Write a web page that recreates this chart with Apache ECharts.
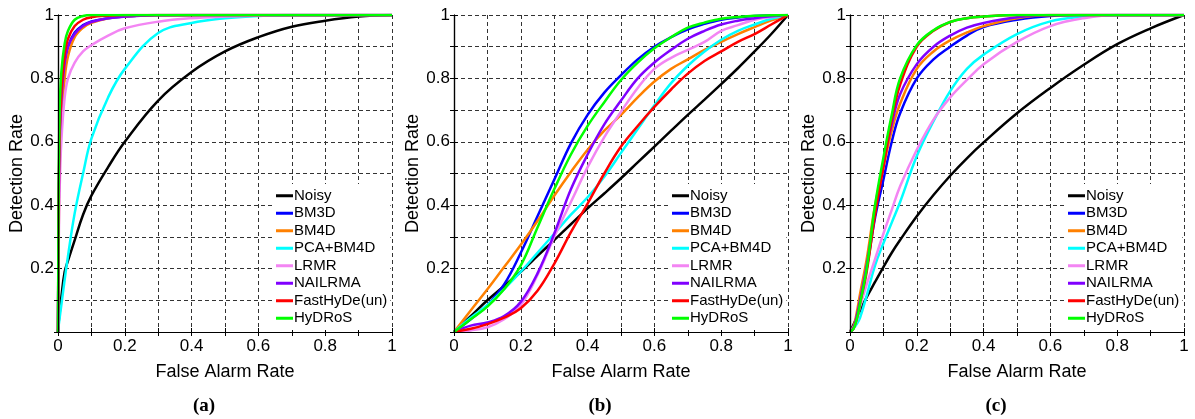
<!DOCTYPE html>
<html>
<head>
<meta charset="utf-8">
<script src="https://cdn.jsdelivr.net/npm/echarts@6/dist/echarts.min.js"></script>
<style>
  html, body { margin: 0; padding: 0; background: #fff; }
  #chart { width: 1195px; height: 419px; }
</style>
</head>
<body>
<div id="chart"></div>
<script>
// method names, legend order
const methods = ['Noisy', 'BM3D', 'BM4D', 'PCA+BM4D', 'LRMR', 'NAILRMA', 'FastHyDe(un)', 'HyDRoS'];
const colors = ['#000000', '#0000ff', '#ff8000', '#00ffff', '#f385f3', '#8000ff', '#ff0000', '#00ff00'];
const panelTags = ['a', 'b', 'c'];

// (a) false alarm rate samples and detection rates
const fprA = [0, 0.002, 0.005, 0.01, 0.02, 0.03, 0.05, 0.075, 0.1, 0.15, 0.2, 0.3, 0.4, 0.5, 0.6, 0.7, 0.8, 0.9, 1];
const noisyA = [0, 0.03, 0.06, 0.11, 0.19, 0.225, 0.29, 0.37, 0.43, 0.52, 0.6, 0.73, 0.82, 0.885, 0.93, 0.963, 0.982, 0.995, 1];
const bm3dA = [0, 0.35, 0.58, 0.72, 0.84, 0.9, 0.945, 0.968, 0.98, 0.99, 0.995, 1, 1, 1, 1, 1, 1, 1, 1];
const bm4dA = [0, 0.3, 0.52, 0.67, 0.8, 0.87, 0.93, 0.96, 0.975, 0.99, 0.995, 1, 1, 1, 1, 1, 1, 1, 1];
const pcaA = [0, 0.02, 0.045, 0.085, 0.165, 0.24, 0.375, 0.5, 0.61, 0.74, 0.83, 0.943, 0.975, 0.99, 0.997, 1, 1, 1, 1];
const lrmrA = [0, 0.25, 0.45, 0.6, 0.74, 0.8, 0.85, 0.885, 0.905, 0.935, 0.958, 0.979, 0.99, 0.995, 0.998, 1, 1, 1, 1];
const nailA = [0, 0.38, 0.6, 0.73, 0.85, 0.9, 0.94, 0.965, 0.978, 0.99, 0.995, 0.999, 1, 1, 1, 1, 1, 1, 1];
const fastA = [0, 0.4, 0.62, 0.76, 0.875, 0.925, 0.965, 0.985, 0.993, 0.998, 1, 1, 1, 1, 1, 1, 1, 1, 1];
const hydrosA = [0, 0.45, 0.7, 0.82, 0.91, 0.95, 0.985, 0.997, 1, 1, 1, 1, 1, 1, 1, 1, 1, 1, 1];

// (b)
const fprB = [0, 0.05, 0.1, 0.15, 0.2, 0.25, 0.3, 0.35, 0.4, 0.45, 0.5, 0.55, 0.6, 0.65, 0.7, 0.75, 0.8, 0.85, 0.9, 0.95, 1];
const noisyB = [0, 0.05, 0.1, 0.145, 0.19, 0.24, 0.29, 0.34, 0.39, 0.437, 0.485, 0.535, 0.585, 0.635, 0.685, 0.733, 0.782, 0.832, 0.885, 0.94, 1];
const bm3dB = [0, 0.04, 0.085, 0.15, 0.25, 0.365, 0.48, 0.595, 0.685, 0.755, 0.81, 0.86, 0.9, 0.93, 0.955, 0.972, 0.985, 0.992, 0.997, 0.999, 1];
const bm4dB = [0, 0.068, 0.135, 0.205, 0.275, 0.35, 0.43, 0.505, 0.575, 0.635, 0.685, 0.74, 0.79, 0.83, 0.86, 0.89, 0.915, 0.94, 0.962, 0.983, 1];
const pcaB = [0, 0.045, 0.085, 0.135, 0.19, 0.25, 0.31, 0.37, 0.425, 0.49, 0.565, 0.64, 0.715, 0.785, 0.84, 0.885, 0.922, 0.95, 0.97, 0.988, 1];
const lrmrB = [0, 0.005, 0.015, 0.04, 0.085, 0.18, 0.3, 0.41, 0.52, 0.615, 0.695, 0.77, 0.83, 0.865, 0.89, 0.915, 0.95, 0.968, 0.985, 0.994, 1];
const nailB = [0, 0.02, 0.03, 0.05, 0.095, 0.185, 0.31, 0.45, 0.56, 0.655, 0.73, 0.8, 0.85, 0.89, 0.925, 0.95, 0.97, 0.982, 0.99, 0.996, 1];
const fastB = [0, 0.01, 0.025, 0.045, 0.075, 0.13, 0.215, 0.315, 0.405, 0.5, 0.585, 0.65, 0.71, 0.765, 0.815, 0.855, 0.885, 0.915, 0.94, 0.97, 1];
const hydrosB = [0, 0.04, 0.08, 0.135, 0.21, 0.33, 0.45, 0.56, 0.65, 0.725, 0.795, 0.85, 0.895, 0.93, 0.96, 0.976, 0.988, 0.994, 0.998, 0.999, 1];

// (c)
const fprC = [0, 0.01, 0.02, 0.03, 0.05, 0.075, 0.1, 0.125, 0.15, 0.2, 0.25, 0.3, 0.35, 0.4, 0.5, 0.6, 0.7, 0.8, 0.9, 1];
const noisyC = [0, 0.022, 0.045, 0.067, 0.11, 0.158, 0.205, 0.25, 0.29, 0.365, 0.432, 0.493, 0.548, 0.598, 0.69, 0.77, 0.843, 0.908, 0.958, 1];
const bm3dC = [0, 0.01, 0.045, 0.09, 0.2, 0.36, 0.48, 0.6, 0.69, 0.8, 0.86, 0.9, 0.935, 0.962, 0.985, 0.997, 1, 1, 1, 1];
const bm4dC = [0, 0.015, 0.06, 0.12, 0.23, 0.4, 0.52, 0.635, 0.72, 0.83, 0.885, 0.92, 0.945, 0.965, 0.99, 1, 1, 1, 1, 1];
const pcaC = [0, 0.01, 0.025, 0.045, 0.115, 0.21, 0.28, 0.345, 0.41, 0.555, 0.665, 0.76, 0.83, 0.875, 0.94, 0.98, 0.995, 1, 1, 1];
const lrmrC = [0, 0.015, 0.035, 0.08, 0.15, 0.23, 0.31, 0.385, 0.46, 0.575, 0.67, 0.74, 0.795, 0.845, 0.915, 0.965, 0.99, 1, 1, 1];
const nailC = [0, 0.012, 0.05, 0.1, 0.21, 0.38, 0.53, 0.655, 0.75, 0.845, 0.9, 0.935, 0.96, 0.975, 0.993, 1, 1, 1, 1, 1];
const fastC = [0, 0.01, 0.04, 0.09, 0.19, 0.37, 0.52, 0.67, 0.78, 0.9, 0.95, 0.978, 0.99, 0.995, 1, 1, 1, 1, 1, 1];
const hydrosC = [0, 0.01, 0.04, 0.09, 0.2, 0.4, 0.55, 0.685, 0.8, 0.905, 0.952, 0.978, 0.99, 0.995, 1, 1, 1, 1, 1, 1];

const panels = [
  { fpr: fprA, curves: [noisyA, bm3dA, bm4dA, pcaA, lrmrA, nailA, fastA, hydrosA] },
  { fpr: fprB, curves: [noisyB, bm3dB, bm4dB, pcaB, lrmrB, nailB, fastB, hydrosB] },
  { fpr: fprC, curves: [noisyC, bm3dC, bm4dC, pcaC, lrmrC, nailC, fastC, hydrosC] },
];

const font = 'Liberation Sans, Arial, sans-serif';
const plotLefts = [58, 454, 850];
const plotW = 334;
const plotTop = 15;
const plotH = 317;

function tickText(v, showZero) {
  const k = Math.round(v * 10);
  if (k % 2) return '';
  if (k === 0) return showZero ? '0' : '';
  if (k === 10) return '1';
  return (k / 10).toString();
}

const gridLine = { show: true, lineStyle: { color: '#333', width: 1, type: [4, 3] } };
const frameLine = { show: true, lineStyle: { color: '#000', width: 1.2 } };
const innerTick = { show: true, inside: true, length: 4, lineStyle: { color: '#000' } };

const grid = [];
const xAxis = [];
const yAxis = [];
const series = [];
const legend = [];
const title = [];

panels.forEach((p, i) => {
  grid.push({ left: plotLefts[i], top: plotTop, width: plotW, height: plotH, containLabel: false });

  // main axes: labels, names, dashed grid
  xAxis.push({
    type: 'value', gridIndex: i, min: 0, max: 1, interval: 0.1, position: 'bottom',
    axisLine: frameLine, axisTick: innerTick, splitLine: gridLine,
    axisLabel: { color: '#000', fontFamily: font, fontSize: 17, margin: 6, showMinLabel: true, showMaxLabel: true,
      formatter: (v) => tickText(v, true) },
    name: 'False Alarm Rate', nameLocation: 'middle', nameGap: 31,
    nameTextStyle: { color: '#000', fontFamily: font, fontSize: 18 },
  });
  // top frame
  xAxis.push({
    type: 'value', gridIndex: i, min: 0, max: 1, interval: 0.1, position: 'top', z: 6,
    axisLine: frameLine, axisTick: innerTick, splitLine: { show: false }, axisLabel: { show: false },
  });
  yAxis.push({
    type: 'value', gridIndex: i, min: 0, max: 1, interval: 0.1, position: 'left',
    axisLine: frameLine, axisTick: innerTick, splitLine: gridLine,
    axisLabel: { color: '#000', fontFamily: font, fontSize: 17, margin: 4, showMinLabel: true, showMaxLabel: true,
      formatter: (v) => tickText(v, false) },
    name: 'Detection Rate', nameLocation: 'middle', nameGap: 29,
    nameTextStyle: { color: '#000', fontFamily: font, fontSize: 18 },
  });
  // right frame
  yAxis.push({
    type: 'value', gridIndex: i, min: 0, max: 1, interval: 0.1, position: 'right', z: 6,
    axisLine: frameLine, axisTick: innerTick, splitLine: { show: false }, axisLabel: { show: false },
  });

  p.curves.forEach((ys, k) => {
    series.push({
      name: methods[k],
      type: 'line',
      xAxisIndex: i * 2,
      yAxisIndex: i * 2,
      data: p.fpr.map((x, j) => [x, ys[j]]),
      showSymbol: false,
      smooth: 0.4,
      color: colors[k],
      lineStyle: { color: colors[k], width: 2.5 },
      clip: true,
    });
  });

  legend.push({
    data: methods,
    orient: 'vertical',
    left: plotLefts[i] + 215,
    top: 184,
    padding: [3, 3, 3, 3],
    backgroundColor: '#fff',
    icon: 'rect',
    itemWidth: 17,
    itemHeight: 3,
    itemGap: 0,
    selectedMode: false,
    textStyle: { color: '#000', fontFamily: font, fontSize: 15, lineHeight: 17.5, padding: [0, 0, 0, -4] },
  });

  title.push({
    text: '{p|(}{b|' + panelTags[i] + '}{p|)}',
    left: plotLefts[i] + 141,
    top: 392,
    textAlign: 'center',
    textStyle: {
      rich: {
        p: { fontFamily: 'Liberation Serif, DejaVu Serif, serif', fontSize: 19, color: '#000' },
        b: { fontFamily: 'Liberation Serif, DejaVu Serif, serif', fontSize: 19, fontWeight: 'bold', color: '#000' },
      },
    },
  });
});

const chart = echarts.init(document.getElementById('chart'), null, { renderer: 'canvas' });
chart.setOption({
  animation: false,
  backgroundColor: '#fff',
  title,
  grid,
  xAxis,
  yAxis,
  legend,
  series,
});
</script>
</body>
</html>
